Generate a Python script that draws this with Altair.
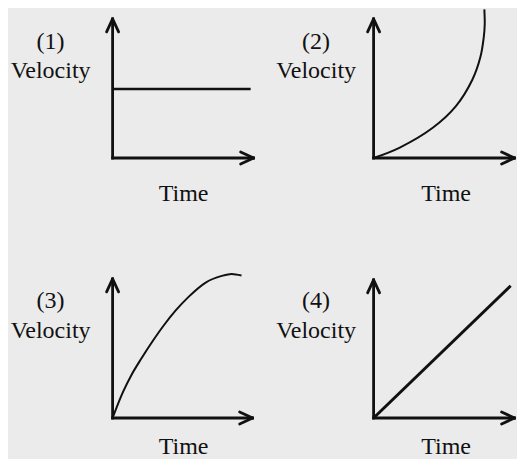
import altair as alt
import pandas as pd

# ---- data (units: time / velocity, arbitrary) ----
panel_labels = ["(1)", "(2)", "(3)", "(4)"]
x_label = "Time"
y_label = "Velocity"
time_axis_end = [143, 143, 142, 143]
velocity_axis_end = [141, 141, 141, 140]

t1 = [0, 140]
v1 = [70, 70]

t2 = [0, 26.6, 60, 83.3, 100, 108.3, 111.7, 112.7, 112.3]
v2 = [0, 10.6, 30.6, 52.3, 79, 102.3, 122.3, 135.6, 150.6]

t3 = [0, 4, 10.7, 19, 29, 40.7, 52, 64, 77.3, 94, 110.7, 120.7, 130.7]
v3 = [0, 10.5, 26.7, 43.4, 60, 78, 94, 109, 123, 137, 144, 146, 144.4]

t4 = [0, 139]
v4 = [0, 134]

curves_t = [t1, t2, t3, t4]
curves_v = [v1, v2, v3, v4]

# ---- styling ----
INK = "#111111"
FONT = "Liberation Serif"
FS = 24
W, H = 142, 150
AXW = 2.8
HEAD_LEN, HEAD_HALF = 13, 6
line_widths = [2.5, 2, 2, 3]
interps = ["linear", "catmull-rom", "monotone", "linear"]
ytitle_x = [-62.5, -58, -62.5, -58]
ytitle_y = [40, 40, 40, 40]
xtitle_x = [70.5, 72, 70.5, 72]
xtitle_y = [42, 42, 36, 36]


def panel(k):
    xaxis = alt.Axis(title=x_label, domain=False, ticks=False, labels=False, grid=False,
                     titleX=xtitle_x[k], titleY=xtitle_y[k], titleAlign="center",
                     titleBaseline="alphabetic", titleFont=FONT, titleFontSize=FS,
                     titleFontWeight="normal", titleColor=INK)
    yaxis = alt.Axis(title=[panel_labels[k], y_label], domain=False, ticks=False, labels=False,
                     grid=False, titleAngle=0, titleX=ytitle_x[k], titleY=ytitle_y[k],
                     titleAlign="center", titleBaseline="alphabetic", titleLineHeight=30,
                     titleFont=FONT, titleFontSize=FS, titleFontWeight="normal", titleColor=INK)
    x = alt.X("t:Q", scale=alt.Scale(domain=[0, 144], nice=False, zero=False), axis=xaxis)
    y = alt.Y("v:Q", scale=alt.Scale(domain=[0, 152], nice=False, zero=False), axis=yaxis)

    axes_df = pd.DataFrame({"t": [0, 0], "v": [0, 0],
                            "t2": [0, time_axis_end[k]], "v2": [velocity_axis_end[k], 0]})
    up_df = pd.DataFrame({"t": [0], "v": [velocity_axis_end[k]]})
    right_df = pd.DataFrame({"t": [time_axis_end[k]], "v": [0]})
    curve_df = pd.DataFrame({"t": curves_t[k], "v": curves_v[k],
                             "i": list(range(len(curves_t[k])))})

    axes = alt.Chart(axes_df).mark_rule(color=INK, strokeWidth=AXW, strokeCap="square").encode(
        x=x, y=y, x2="t2:Q", y2="v2:Q")

    def wing(df, dx, dy):
        return alt.Chart(df).mark_rule(color=INK, strokeWidth=AXW, strokeCap="round",
                                       x2Offset=dx, y2Offset=dy).encode(
            x=x, y=y, x2="t:Q", y2="v:Q")

    heads = [
        wing(up_df, -HEAD_HALF, HEAD_LEN),
        wing(up_df, HEAD_HALF, HEAD_LEN),
        wing(right_df, -HEAD_LEN, -HEAD_HALF),
        wing(right_df, -HEAD_LEN, HEAD_HALF),
    ]
    curve = alt.Chart(curve_df).mark_line(color=INK, strokeWidth=line_widths[k],
                                          strokeJoin="round", strokeCap="butt",
                                          interpolate=interps[k]).encode(
        x=x, y=y, order=alt.Order("i:Q"))
    return alt.layer(axes, curve, *heads).properties(width=W, height=H)


chart = alt.concat(
    *[panel(k) for k in range(4)],
    columns=2,
    spacing={"row": 110, "column": 119},
    bounds="flush",
).properties(
    padding={"left": 1.6, "top": 0, "right": 0, "bottom": 0},
    background="#ebebeb",
).configure_view(stroke=None)

chart.save("out.html", embed_options={"renderer": "svg", "actions": False})
